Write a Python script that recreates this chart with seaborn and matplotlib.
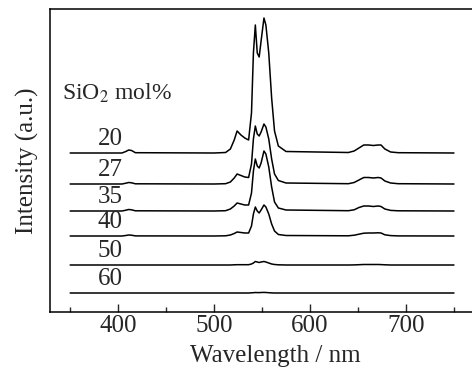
import numpy as np
import pandas as pd
import matplotlib
matplotlib.use("Agg")
import matplotlib.pyplot as plt
from matplotlib.ticker import MultipleLocator
import seaborn as sns

# wavelength grid (nm)
wavelength = [350, 404, 408, 411, 414, 418, 500, 512, 517, 521, 524, 528, 532, 536,
              539, 541, 543, 545, 547, 549, 552, 554, 557, 560, 563, 567, 575,
              640, 646, 651, 656, 661, 666, 671, 674, 678, 684, 692, 750]

# relative intensity above each baseline
i20 = [0, 0, 1.5, 3, 2.5, 0.3, 0, 0.5, 4, 13, 22, 18, 15, 13,
       40, 100, 128, 100, 96, 112, 135, 128, 100, 55, 22, 7, 1.5,
       0.5, 2, 5, 8, 8, 7.5, 8, 8, 4, 1, 0.3, 0]
i27 = [0, 0, 0.8, 1.5, 1.2, 0.2, 0, 0.3, 2, 6, 10, 8.5, 7, 6.5,
       20, 45, 58, 50, 48, 52, 60, 57, 45, 25, 10, 3.5, 1,
       0.3, 1.5, 4, 6.5, 6.5, 6, 6.5, 6, 3, 1, 0.3, 0]
i35 = [0, 0, 0.8, 1.5, 1.2, 0.2, 0, 0.3, 2, 5, 8, 7, 6, 6,
       18, 40, 52, 45, 43, 48, 60, 57, 44, 24, 9, 3, 1,
       0.3, 1.2, 3.5, 5, 5, 4.5, 5, 4.5, 2, 0.6, 0.2, 0]
i40 = [0, 0, 0.5, 1, 0.8, 0.1, 0, 0.2, 1, 2.5, 4, 3.5, 3, 3,
       10, 22, 29, 25, 23, 26, 31, 29, 22, 12, 5, 1.5, 0.5,
       0.2, 0.8, 1.8, 2.8, 3, 3, 3.2, 3, 1.2, 0.4, 0.1, 0]
i50 = [0, 0, 0, 0, 0, 0, 0, 0, 0, 0.2, 0.3, 0.3, 0.3, 0.3,
       1, 2, 3.5, 3, 2.5, 3, 3.5, 3, 2, 1, 0.5, 0.2, 0,
       0, 0.1, 0.3, 0.5, 0.5, 0.5, 0.5, 0.4, 0.2, 0, 0, 0]
i60 = [0, 0, 0, 0, 0, 0, 0, 0, 0, 0, 0, 0, 0, 0,
       0.2, 0.3, 0.5, 0.4, 0.4, 0.5, 0.6, 0.5, 0.3, 0.1, 0, 0, 0,
       0, 0, 0, 0, 0, 0, 0, 0, 0, 0, 0, 0]

sio2 = ["20", "27", "35", "40", "50", "60"]
series = [i20, i27, i35, i40, i50, i60]
offsets = [159, 128, 101, 76, 47, 19]

sns.set_style("ticks")
plt.rcParams['font.family'] = ['Liberation Serif', 'DejaVu Serif']
plt.rcParams['mathtext.fontset'] = 'stix'

fig = plt.figure(figsize=(4.72, 3.70), dpi=100)
ax = fig.add_axes([50 / 472, 58 / 370, 450 / 472, 303 / 370])

for name, vals, off in zip(sio2, series, offsets):
    y = np.array(vals) + off
    sns.lineplot(x=wavelength, y=y, ax=ax, color='black', linewidth=1.1,
                 estimator=None, sort=False)
    ax.text(392, off + 14, name, fontsize=18, ha='center', va='center')

ax.text(341, 219, "SiO$_2$ mol%", fontsize=17, ha='left', va='center')

ax.set_xlim(329, 798)
ax.set_ylim(0, 303)
ax.set_xticks([400, 500, 600, 700])
ax.xaxis.set_minor_locator(MultipleLocator(50))
ax.tick_params(axis='x', which='major', direction='in', length=6, width=1,
               labelsize=18, pad=2)
ax.tick_params(axis='x', which='minor', direction='in', length=3.5, width=1)
ax.set_yticks([])
for s in ax.spines.values():
    s.set_linewidth(1.1)
    s.set_color('black')
ax.spines['right'].set_visible(False)

ax.set_xlabel("Wavelength / nm", fontsize=18, labelpad=6)
ax.set_ylabel("Intensity (a.u.)", fontsize=18, labelpad=8)

fig.savefig("out.png", dpi=100)
